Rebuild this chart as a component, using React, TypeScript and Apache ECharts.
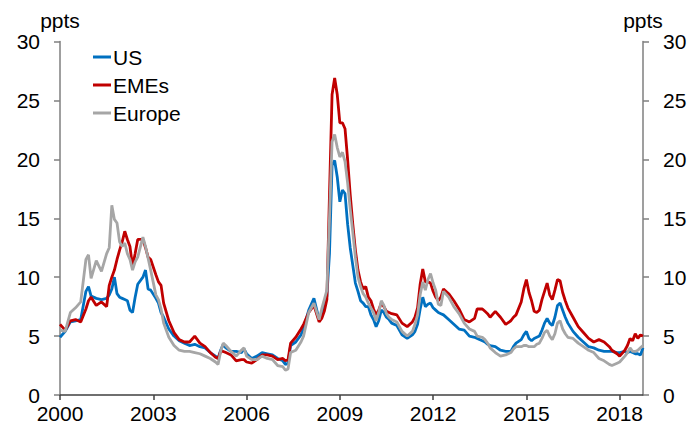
import React, { useEffect, useRef } from "react";
import * as echarts from "echarts";

// month index counted from Jan 2000
const months = [
  0, 2, 4, 6, 8, 10, 11, 12, 14, 16, 18, 19, 20, 21, 22, 23, 24, 25, 26, 27, 28, 29, 30, 32, 33, 34, 35, 37, 38, 39, 40, 42, 44, 46, 48, 50,
  52, 54, 56, 58, 60, 61, 62, 63, 64, 66, 68, 70, 71, 72, 74, 76, 78, 80, 82, 84, 86, 87, 88, 89, 91, 93, 94, 96, 98, 100, 101, 102, 103,
  104, 105, 106, 107, 108, 109, 110, 111, 112, 113, 114, 115, 116, 117, 118, 119, 120, 121, 122, 123, 124, 125, 126, 127, 128, 130, 132,
  134, 136, 137, 138, 139, 140, 141, 142, 143, 144, 145, 146, 147, 148, 150, 152, 154, 156, 158, 160, 161, 163, 164, 165, 166, 168, 170,
  172, 174, 175, 176, 178, 179, 180, 181, 182, 183, 184, 185, 186, 187, 188, 189, 190, 191, 192, 193, 194, 195, 196, 198, 200, 202, 204,
  206, 208, 210, 212, 213, 215, 216, 218, 219, 220, 221, 222, 223, 224, 225,
];

const us = [
  4.9, 5.4, 6.2, 6.3, 6.4, 8.8, 9.2, 8.4, 8.2, 8.1, 8.2, 8.5, 9.0, 10.0, 8.6, 8.3, 8.2, 8.1, 8.0, 7.2, 7.0, 8.3, 9.4, 10.0, 10.6, 9.0, 8.9,
  8.2, 7.8, 7.0, 6.6, 5.6, 5.0, 4.6, 4.4, 4.2, 4.3, 4.1, 4.0, 3.6, 3.3, 3.1, 3.8, 4.3, 4.0, 3.7, 3.7, 3.6, 3.9, 3.5, 3.1, 3.3, 3.6, 3.5,
  3.4, 3.1, 2.9, 2.6, 2.7, 4.2, 4.5, 5.1, 5.7, 7.2, 8.2, 6.4, 6.6, 7.6, 8.4, 12.0, 19.5, 19.9, 18.5, 16.4, 17.4, 17.1, 14.5, 12.5, 11.0,
  9.5, 8.8, 8.0, 7.8, 7.5, 7.5, 6.8, 6.4, 5.8, 6.3, 7.2, 7.0, 6.6, 6.4, 6.1, 5.9, 5.1, 4.8, 5.1, 5.4, 6.0, 7.3, 8.3, 7.5, 7.7, 7.8, 7.4,
  7.2, 7.0, 6.9, 6.8, 6.4, 6.0, 5.6, 5.5, 5.0, 4.9, 4.8, 4.6, 4.5, 4.3, 4.2, 4.1, 3.8, 3.7, 3.7, 4.1, 4.4, 4.7, 5.1, 5.4, 4.8, 4.6, 4.8,
  4.9, 5.0, 5.5, 6.1, 6.5, 6.1, 5.9, 6.6, 7.6, 7.8, 7.2, 6.6, 6.1, 5.4, 4.9, 4.5, 4.1, 4.0, 3.8, 3.7, 3.7, 3.7, 3.6, 3.6, 3.7, 3.6, 3.7,
  3.6, 3.5, 3.5, 3.4, 4.0,
];

const emes = [
  6.0, 5.5, 6.3, 6.4, 6.2, 7.3, 8.0, 8.3, 7.6, 7.9, 7.5, 9.3, 10.0, 10.6, 11.5, 12.3, 13.0, 13.9, 13.2, 12.6, 10.9, 12.0, 13.2, 13.2,
  12.5, 11.7, 11.5, 10.2, 9.6, 9.3, 7.8, 6.3, 5.3, 4.7, 4.5, 4.5, 5.0, 4.4, 4.1, 3.6, 3.2, 3.1, 3.7, 3.7, 3.6, 3.4, 2.9, 3.0, 3.0, 2.8,
  2.7, 3.0, 3.4, 3.4, 3.3, 3.0, 3.1, 2.9, 3.0, 4.4, 4.9, 5.6, 6.0, 7.0, 7.6, 6.2, 6.5, 7.1, 8.1, 17.0, 25.5, 26.9, 25.5, 23.1, 23.1, 22.6,
  20.0, 17.0, 14.5, 12.3, 10.6, 9.6, 9.0, 9.2, 8.3, 8.0, 7.3, 6.8, 7.2, 7.8, 7.5, 7.1, 7.0, 6.9, 6.8, 6.1, 5.8, 6.2, 6.6, 7.4, 9.4, 10.7,
  9.6, 9.6, 9.5, 8.8, 8.3, 8.0, 8.3, 9.0, 8.6, 8.0, 7.3, 6.4, 6.2, 6.5, 7.3, 7.3, 7.1, 6.9, 6.6, 7.1, 6.6, 6.0, 6.3, 6.6, 6.8, 7.9, 9.0,
  9.8, 8.7, 8.0, 7.1, 7.0, 7.2, 8.1, 8.8, 9.5, 8.5, 8.1, 8.9, 9.8, 9.7, 8.7, 8.0, 7.4, 6.6, 5.8, 5.3, 4.8, 4.5, 4.7, 4.5, 4.1, 3.8, 3.5,
  3.3, 3.8, 4.2, 4.8, 4.6, 5.2, 4.8, 5.1, 5.0,
];

const europe = [
  5.5, 5.4, 7.0, 7.4, 7.9, 11.5, 11.9, 9.9, 11.4, 10.5, 12.0, 12.5, 16.1, 14.9, 14.6, 13.0, 12.6, 12.9, 12.0, 11.5, 10.6, 11.3, 11.7,
  13.4, 12.6, 11.6, 10.6, 8.5, 8.1, 7.3, 6.1, 4.9, 4.2, 3.8, 3.7, 3.7, 3.6, 3.5, 3.3, 3.1, 2.8, 2.6, 3.7, 4.4, 4.2, 3.7, 3.3, 3.8, 4.0,
  3.3, 3.0, 3.0, 3.3, 3.1, 3.0, 2.5, 2.4, 2.1, 2.2, 3.6, 3.8, 4.5, 5.0, 7.0, 7.8, 6.4, 7.3, 8.1, 8.9, 15.0, 21.5, 22.1, 21.0, 20.2, 20.6,
  19.8, 18.0, 15.8, 13.8, 11.7, 10.0, 9.2, 8.6, 8.3, 7.8, 7.4, 7.0, 6.3, 7.0, 8.0, 7.6, 6.9, 6.6, 6.4, 6.2, 5.4, 5.0, 5.4, 6.0, 6.8, 8.5,
  9.6, 8.9, 9.8, 10.3, 9.5, 8.9, 7.7, 7.6, 8.8, 8.3, 7.5, 6.9, 6.1, 5.6, 5.4, 5.0, 4.9, 4.7, 4.4, 4.0, 3.6, 3.3, 3.4, 3.6, 3.9, 4.1, 4.1,
  4.2, 4.2, 4.1, 4.1, 4.1, 4.3, 4.4, 4.8, 5.3, 5.5, 5.0, 4.7, 5.2, 6.1, 6.3, 5.6, 5.2, 4.9, 4.8, 4.4, 4.1, 3.8, 3.6, 3.1, 2.9, 2.6, 2.5,
  2.7, 2.8, 3.3, 3.6, 4.0, 3.7, 3.7, 3.8, 4.0, 4.2,
];

const xTickYears = [2000, 2003, 2006, 2009, 2012, 2015, 2018];
const yTicks = [0, 5, 10, 15, 20, 25, 30];
const lastMonth = 225;

const FONT = "'Liberation Sans', Arial, sans-serif";

export default function App() {
  const ref = useRef<HTMLDivElement>(null);
  useEffect(() => {
    if (!ref.current) return;
    const chart = echarts.init(ref.current, undefined, { renderer: "svg" });
    const toData = (vals: number[]) => months.map((m, i) => [m / 12, vals[i]]);
    const xCustom = xTickYears.map((y) => y - 2000);
    const yAxisBase = (pos: "left" | "right") => ({
      type: "value" as const,
      position: pos,
      min: yTicks[0],
      max: yTicks[yTicks.length - 1],
      interval: yTicks[1] - yTicks[0],
      name: "ppts",
      nameLocation: "end" as const,
      nameGap: 4,
      nameTextStyle: { fontSize: 21, color: "#000", fontFamily: FONT, align: "center" as const },
      axisLine: { show: true, lineStyle: { color: "#7f7f7f", width: 1.5 } },
      axisTick: { show: true, inside: false, length: 6, lineStyle: { color: "#7f7f7f", width: 1.5 } },
      axisLabel: { fontSize: 21, color: "#000", fontFamily: FONT, margin: 20 },
      splitLine: { show: false },
    });
    chart.setOption({
      animation: false,
      backgroundColor: "#fff",
      grid: { left: 60, right: 48, top: 41.5, bottom: 34, containLabel: false },
      legend: {
        data: ["US", "EMEs", "Europe"],
        orient: "vertical",
        left: 88,
        top: 41,
        icon: "rect",
        itemWidth: 18,
        itemHeight: 3,
        itemGap: 6,
        textStyle: { fontSize: 21, lineHeight: 22, color: "#000", fontFamily: FONT, padding: [0, 0, 0, -3] },
      },
      xAxis: {
        type: "value",
        min: 0,
        max: lastMonth / 12,
        axisLine: { show: true, onZero: false, lineStyle: { color: "#404040", width: 1.5 } },
        axisTick: { show: true, inside: false, length: 5, customValues: xCustom, lineStyle: { color: "#404040", width: 1.5 } },
        axisLabel: {
          fontSize: 21,
          color: "#000",
          fontFamily: FONT,
          margin: 8,
          customValues: xCustom,
          formatter: (v: number) => String(Math.round(2000 + v)),
        },
        splitLine: { show: false },
      },
      yAxis: [yAxisBase("left"), yAxisBase("right")],
      series: [
        { name: "US", type: "line", data: toData(us), showSymbol: false, symbol: "none", lineStyle: { color: "#0070C0", width: 2.8 }, itemStyle: { color: "#0070C0" } },
        { name: "EMEs", type: "line", data: toData(emes), showSymbol: false, symbol: "none", lineStyle: { color: "#C00000", width: 2.8 }, itemStyle: { color: "#C00000" } },
        { name: "Europe", type: "line", data: toData(europe), showSymbol: false, symbol: "none", lineStyle: { color: "#A6A6A6", width: 2.8 }, itemStyle: { color: "#A6A6A6" } },
      ],
    });
    return () => chart.dispose();
  }, []);
  return <div ref={ref} style={{ position: "fixed", left: 0, top: 0, width: 691, height: 429, background: "#fff" }} />;
}
